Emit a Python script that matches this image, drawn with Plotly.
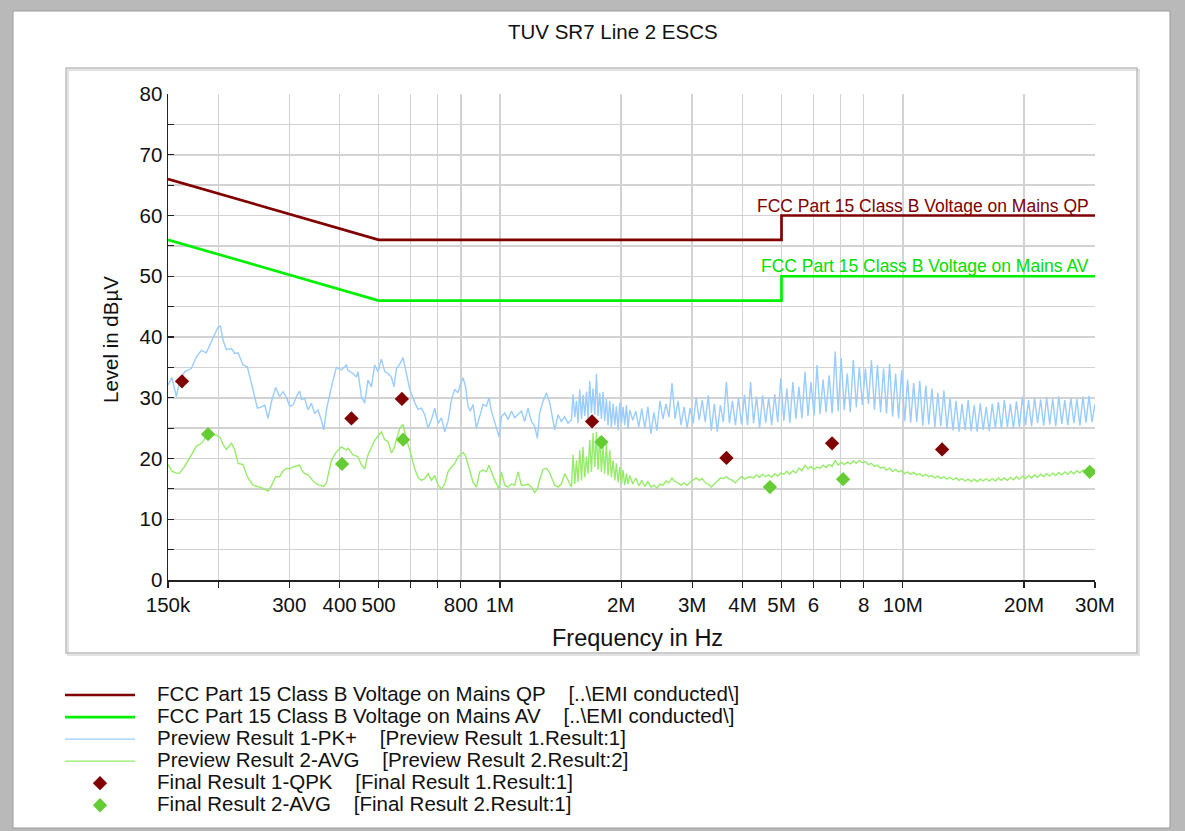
import numpy as np
import plotly.graph_objects as go

# ---------------- data ----------------
limit_freq_mhz = [0.15, 0.5, 5.0, 5.0, 30.0]
limit_qp_dbuv = [66, 56, 56, 60, 60]
limit_av_dbuv = [56, 46, 46, 50, 50]

preview_freq_mhz = [
    0.1500, 0.1534, 0.1573, 0.1603, 0.1650, 0.1714, 0.1764, 0.1815, 0.1867, 0.1922,
    0.1959, 0.1996, 0.2024, 0.2054, 0.2094, 0.2156, 0.2197, 0.2239, 0.2303, 0.2361,
    0.2438, 0.2500, 0.2558, 0.2607, 0.2656, 0.2708, 0.2775, 0.2839, 0.2893, 0.2951,
    0.3007, 0.3064, 0.3125, 0.3184, 0.3215, 0.3276, 0.3339, 0.3404, 0.3469, 0.3535,
    0.3604, 0.3653, 0.3710, 0.3817, 0.3927, 0.4041, 0.4158, 0.4196, 0.4318, 0.4402,
    0.4443, 0.4530, 0.4616, 0.4704, 0.4797, 0.4889, 0.4982, 0.5079, 0.5176, 0.5275,
    0.5378, 0.5459, 0.5534, 0.5640, 0.5747, 0.5861, 0.5973, 0.6146, 0.6263, 0.6386,
    0.6507, 0.6631, 0.6761, 0.6890, 0.7022, 0.7159, 0.7295, 0.7434, 0.7580, 0.7725,
    0.7872, 0.7948, 0.8100, 0.8211, 0.8333, 0.8447, 0.8574, 0.8743, 0.8909, 0.9079,
    0.9257, 0.9395, 0.9526, 0.9707, 0.9949, 1.009, 1.028, 1.047, 1.068, 1.088,
    1.109, 1.131, 1.152, 1.174, 1.197, 1.220, 1.239, 1.255, 1.279, 1.305,
    1.329, 1.350, 1.368, 1.394, 1.421, 1.448, 1.476, 1.505,
    1.519, 1.534, 1.549, 1.563, 1.578, 1.594, 1.608, 1.624, 1.640, 1.655,
    1.671, 1.687, 1.703, 1.720, 1.736, 1.752, 1.769, 1.786, 1.803, 1.820,
    1.838, 1.855, 1.873, 1.891, 1.909, 1.928, 1.946, 1.965, 1.984, 2.003,
    2.021, 2.041, 2.061, 2.080,
    2.100, 2.137, 2.174, 2.211, 2.250, 2.289, 2.329, 2.370, 2.411, 2.453,
    2.496, 2.539, 2.583, 2.628, 2.674, 2.721, 2.768, 2.816, 2.865, 2.915,
    2.966, 3.018, 3.070, 3.124, 3.178, 3.233, 3.290, 3.347, 3.405, 3.465,
    3.525, 3.586, 3.649, 3.712, 3.777, 3.843, 3.910, 3.978, 4.047, 4.117,
    4.189, 4.262, 4.336, 4.412, 4.489, 4.567, 4.646, 4.727, 4.810, 4.893,
    4.979, 5.066, 5.154, 5.244, 5.335, 5.428, 5.523, 5.619, 5.717, 5.816,
    5.918, 6.021, 6.126, 6.232, 6.341, 6.451, 6.564, 6.678, 6.794, 6.913,
    7.033, 7.156, 7.280, 7.407, 7.536, 7.668, 7.801, 7.937, 8.075, 8.216,
    8.359, 8.505, 8.653, 8.804, 8.957, 9.113, 9.272, 9.434, 9.598, 9.765,
    9.935, 10.11, 10.28, 10.46, 10.64, 10.83, 11.02, 11.21, 11.41, 11.60,
    11.81, 12.01, 12.22, 12.43, 12.65, 12.87, 13.10, 13.32, 13.56, 13.79,
    14.03, 14.28, 14.53, 14.78, 15.04, 15.30, 15.57, 15.84, 16.11, 16.39,
    16.68, 16.97, 17.27, 17.57, 17.87, 18.18, 18.50, 18.82, 19.15, 19.48,
    19.82, 20.17, 20.52, 20.88, 21.24, 21.61, 21.99, 22.37, 22.76, 23.16,
    23.56, 23.97, 24.39, 24.81, 25.24, 25.68, 26.13, 26.59, 27.05, 27.52,
    28.00, 28.49, 28.99, 29.49, 30.00,
]

preview_pk_dbuv = [
    32.1, 33.3, 30.2, 32.6, 34.3, 34.8, 36.7, 37.8, 37.4, 39.2,
    40.5, 41.6, 41.8, 39.5, 37.9, 38.1, 37.3, 37.4, 35.4, 35.1,
    31.3, 28.3, 28.5, 28.8, 26.6, 29.3, 31.7, 30.2, 31.0, 30.1,
    28.6, 28.8, 30.2, 31.1, 29.7, 29.9, 28.0, 29.1, 27.4, 28.0,
    26.3, 24.7, 28.0, 31.8, 35.0, 34.6, 35.4, 34.5, 34.0, 33.4,
    34.3, 30.2, 29.1, 32.9, 31.8, 35.4, 34.3, 36.4, 34.3, 34.0,
    33.4, 31.8, 34.8, 35.5, 36.6, 34.2, 31.4, 29.2, 28.1, 28.3,
    27.2, 25.0, 26.4, 28.3, 25.8, 26.7, 24.4, 26.1, 29.7, 31.4,
    30.8, 31.9, 33.3, 31.9, 28.6, 27.8, 28.9, 25.0, 26.9, 28.9,
    28.6, 30.0, 27.8, 25.8, 23.6, 26.9, 27.5, 26.4, 27.8, 26.7,
    27.2, 27.8, 26.1, 28.3, 26.1, 25.3, 23.3, 27.5, 29.4, 30.8,
    29.2, 26.4, 24.7, 27.2, 26.1, 26.9, 25.8, 26.4,
    30.6, 26.8, 29.5, 25.8, 31.4, 26.5, 30.5, 27.0, 31.0, 26.5,
    32.8, 27.5, 31.5, 27.2, 33.9, 27.0, 30.8, 26.5, 31.0, 26.2,
    29.8, 25.5, 29.5, 25.2, 29.0, 25.5, 28.6, 24.7, 29.2, 25.8,
    28.5, 25.5, 28.8, 24.9,
    28.0, 26.3, 27.8, 25.2, 28.2, 25.0, 28.5, 24.1, 27.6, 24.6,
    29.5, 26.5, 29.0, 26.8, 32.4, 26.5, 29.5, 25.5, 28.5, 25.0,
    28.3, 25.8, 30.0, 26.3, 29.6, 26.0, 30.4, 24.6, 29.0, 24.4,
    28.8, 26.0, 32.6, 25.8, 29.5, 25.5, 30.0, 25.6, 30.5, 25.5,
    32.6, 25.8, 30.2, 25.0, 30.4, 25.9, 30.0, 25.5, 30.6, 26.0,
    33.2, 26.2, 31.5, 25.8, 32.6, 26.5, 31.8, 26.6, 34.3, 27.0,
    32.6, 27.1, 35.4, 27.3, 33.0, 27.6, 33.7, 27.4, 37.6, 27.8,
    36.5, 28.0, 34.0, 27.6, 36.2, 28.4, 35.0, 28.8, 34.8, 29.0,
    36.2, 28.0, 35.4, 27.6, 34.8, 27.4, 35.6, 26.9, 34.0, 26.6,
    34.5, 26.2, 33.0, 25.9, 32.4, 26.0, 32.8, 25.4, 32.0, 25.6,
    31.5, 25.2, 30.8, 25.3, 31.2, 24.9, 29.9, 24.6, 29.5, 24.4,
    29.0, 24.7, 29.6, 24.5, 28.8, 24.4, 29.1, 24.7, 28.5, 24.5,
    29.0, 25.0, 29.3, 24.9, 29.6, 25.2, 29.0, 24.9, 29.4, 25.2,
    30.2, 25.5, 29.6, 25.3, 30.0, 25.8, 29.7, 25.4, 30.1, 25.6,
    29.8, 25.3, 30.2, 25.7, 29.6, 25.5, 30.0, 25.8, 29.8, 25.4,
    30.2, 25.9, 30.3, 26.0, 29.0,
]

preview_avg_dbuv = [
    19.0, 17.9, 17.6, 17.6, 18.7, 20.6, 22.0, 22.5, 23.6, 24.2,
    24.0, 23.7, 23.4, 22.3, 21.5, 22.5, 21.4, 19.2, 19.0, 17.0,
    15.6, 15.4, 15.2, 14.9, 14.6, 15.5, 17.0, 17.0, 17.9, 18.4,
    18.3, 18.6, 18.8, 18.9, 18.2, 17.5, 17.3, 16.6, 16.0, 15.7,
    15.5, 15.4, 16.0, 19.7, 21.1, 21.9, 21.4, 21.7, 20.6, 20.4,
    20.3, 19.0, 18.3, 20.6, 21.9, 23.0, 23.7, 24.4, 23.1, 22.8,
    20.9, 21.7, 23.1, 25.0, 25.6, 23.1, 21.4, 18.3, 16.9, 16.4,
    16.7, 17.5, 16.4, 17.2, 15.6, 15.0, 15.8, 17.8, 18.6, 19.2,
    20.3, 20.5, 21.0, 20.5, 19.0, 17.7, 16.1, 15.3, 17.8, 18.1,
    17.8, 18.9, 17.8, 16.4, 15.0, 17.8, 15.6, 15.3, 15.8, 15.6,
    17.8, 15.6, 15.6, 15.8, 15.3, 14.4, 15.0, 16.5, 18.2, 18.4,
    17.6, 16.4, 15.6, 15.3, 15.8, 17.5, 16.4, 15.3,
    20.6, 15.8, 19.7, 16.1, 21.4, 16.4, 21.9, 16.9, 20.3, 17.5,
    23.1, 17.8, 24.2, 18.6, 24.4, 18.1, 23.6, 17.8, 21.9, 17.5,
    22.5, 17.2, 21.4, 16.9, 19.7, 16.4, 19.2, 16.1, 18.6, 15.8,
    18.1, 15.6, 17.5, 15.8,
    17.2, 15.8, 16.8, 15.5, 16.4, 15.4, 16.2, 15.3, 15.6, 15.1,
    15.8, 15.6, 16.3, 16.0, 16.8, 16.2, 16.0, 15.6, 16.0, 15.6,
    16.1, 16.5, 16.8, 16.4, 16.7, 16.0, 15.8, 15.3, 15.8, 16.2,
    16.8, 16.7, 17.0, 16.6, 16.4, 16.0, 16.6, 17.0, 16.6, 16.9,
    17.0, 16.8, 17.3, 16.9, 17.4, 17.0, 17.3, 16.9, 17.5, 17.1,
    17.6, 17.4, 17.9, 17.4, 18.0, 17.6, 18.4, 18.0, 18.9, 18.3,
    18.7, 18.2, 18.6, 18.4, 18.9, 18.5, 19.0, 18.7, 19.7, 18.9,
    19.4, 19.0, 19.4, 19.1, 19.6, 19.2, 19.7, 19.3, 19.5, 19.0,
    19.2, 18.7, 18.9, 18.4, 18.6, 18.1, 18.4, 17.9, 18.2, 17.8,
    18.0, 17.5, 17.8, 17.4, 17.7, 17.3, 17.5, 17.1, 17.4, 17.0,
    17.2, 16.8, 17.1, 16.7, 17.0, 16.6, 16.9, 16.5, 16.8, 16.4,
    16.7, 16.3, 16.6, 16.2, 16.6, 16.2, 16.6, 16.3, 16.7, 16.3,
    16.7, 16.3, 16.8, 16.4, 16.8, 16.4, 16.9, 16.5, 17.0, 16.6,
    17.1, 16.7, 17.2, 16.8, 17.3, 16.9, 17.4, 17.0, 17.5, 17.1,
    17.6, 17.2, 17.7, 17.3, 17.8, 17.4, 17.9, 17.5, 18.0, 17.6,
    18.1, 17.7, 18.2, 17.8, 18.0,
]

final_qpk_freq_mhz = [0.1625, 0.428, 0.571, 1.693, 3.65, 6.675, 12.52]
final_qpk_dbuv = [32.7, 26.6, 29.8, 26.1, 20.1, 22.5, 21.5]
final_avg_freq_mhz = [0.1886, 0.4057, 0.575, 1.786, 4.68, 7.11, 29.1]
final_avg_dbuv = [24.0, 19.1, 23.1, 22.7, 15.3, 16.6, 17.8]

x_tick_hz = [150e3, 200e3, 300e3, 400e3, 500e3, 600e3, 700e3, 800e3, 1e6,
             2e6, 3e6, 4e6, 5e6, 6e6, 7e6, 8e6, 10e6, 20e6, 30e6]
x_tick_text = ["150k", "", "300", "400", "500", "", "", "800", "1M",
               "2M", "3M", "4M", "5M", "6", "", "8", "10M", "20M", "30M"]
y_tick_vals = list(range(0, 81, 5))
y_tick_text = [str(v) if v % 10 == 0 else "" for v in y_tick_vals]

# ---------------- layout geometry ----------------
W, H = 1185, 831
ML, MR, MT, MB = 168, 90, 94, 251
PW, PH = W - ML - MR, H - MT - MB
FONT = "Liberation Sans, Arial, sans-serif"


def px_x(p):
    return (p - ML) / PW


def px_y(p):
    return (H - MB - p) / PH


def hz(vals):
    return [v * 1e6 for v in vals]


NB = "\u00a0"


def leg(main, extra):
    return ('<span style="font-size:20.5px">' + NB * 3 + main + NB * 4 + extra + "</span>")


fig = go.Figure()

fig.add_trace(go.Scatter(
    x=hz(preview_freq_mhz), y=preview_pk_dbuv, mode="lines",
    line=dict(color="#99CCFF", width=1.4),
    name=leg("Preview Result 1-PK+", "[Preview Result 1.Result:1]"), legendrank=3))
fig.add_trace(go.Scatter(
    x=hz(preview_freq_mhz), y=preview_avg_dbuv, mode="lines",
    line=dict(color="#96EC6A", width=1.4),
    name=leg("Preview Result 2-AVG", "[Preview Result 2.Result:2]"), legendrank=4))
fig.add_trace(go.Scatter(
    x=hz(limit_freq_mhz), y=limit_qp_dbuv, mode="lines",
    line=dict(color="#800000", width=2.7),
    name=leg("FCC Part 15 Class B Voltage on Mains QP", "[..\\EMI conducted\\]"), legendrank=1))
fig.add_trace(go.Scatter(
    x=hz(limit_freq_mhz), y=limit_av_dbuv, mode="lines",
    line=dict(color="#00F000", width=2.7),
    name=leg("FCC Part 15 Class B Voltage on Mains AV", "[..\\EMI conducted\\]"), legendrank=2))
fig.add_trace(go.Scatter(
    x=hz(final_qpk_freq_mhz), y=final_qpk_dbuv, mode="markers",
    marker=dict(symbol="diamond", size=11, color="#800000", line=dict(width=0)),
    name=leg("Final Result 1-QPK", "[Final Result 1.Result:1]"), legendrank=5))
fig.add_trace(go.Scatter(
    x=hz(final_avg_freq_mhz), y=final_avg_dbuv, mode="markers",
    marker=dict(symbol="diamond", size=11, color="#66CC33", line=dict(width=0)),
    name=leg("Final Result 2-AVG", "[Final Result 2.Result:1]"), legendrank=6))

shapes = []
# window frame (grey border around the screenshot)
border = "#b9b9b9"
for (x0, y0, x1, y1) in [(0, 0, 13, H), (0, 0, W, 11), (1170, 0, W, H), (0, 828, W, H)]:
    shapes.append(dict(type="rect", xref="paper", yref="paper", layer="below",
                       x0=px_x(x0), x1=px_x(x1), y0=px_y(y0), y1=px_y(y1),
                       fillcolor=border, line=dict(width=0)))
shapes.append(dict(type="rect", xref="paper", yref="paper", layer="below",
                   x0=px_x(13), x1=px_x(1170), y0=px_y(11), y1=px_y(828),
                   fillcolor="white", line=dict(color="#9a9a9a", width=1)))
# chart panel frame with soft shadow
shapes.append(dict(type="rect", xref="paper", yref="paper", layer="below",
                   x0=px_x(68), x1=px_x(1139), y0=px_y(70), y1=px_y(655),
                   line=dict(color="#e2e2e2", width=2)))
shapes.append(dict(type="rect", xref="paper", yref="paper", layer="below",
                   x0=px_x(66), x1=px_x(1137), y0=px_y(68), y1=px_y(653),
                   line=dict(color="#bcbcbc", width=1.5)))

annotations = [
    dict(text="TUV SR7 Line 2 ESCS", xref="paper", yref="paper",
         x=px_x(613), y=px_y(31), xanchor="center", yanchor="middle",
         showarrow=False, font=dict(family=FONT, size=20.5, color="#111111")),
    dict(text="Frequency in Hz", xref="paper", yref="paper",
         x=px_x(637), y=px_y(638), xanchor="center", yanchor="middle",
         showarrow=False, font=dict(family=FONT, size=23.5, color="#111111")),
    dict(text="Level in dBµV", xref="paper", yref="paper", textangle=-90,
         x=px_x(110), y=px_y(340), xanchor="center", yanchor="middle",
         showarrow=False, font=dict(family=FONT, size=20.5, color="#111111")),
    dict(text="FCC Part 15 Class B Voltage on Mains QP", xref="x", yref="y",
         x=np.log10(30e6), y=60, xanchor="right", yanchor="bottom", xshift=-4, yshift=-2,
         showarrow=False, font=dict(family=FONT, size=17.5, color="#800000")),
    dict(text="FCC Part 15 Class B Voltage on Mains AV", xref="x", yref="y",
         x=np.log10(30e6), y=50, xanchor="right", yanchor="bottom", xshift=-4, yshift=-2,
         showarrow=False, font=dict(family=FONT, size=17.5, color="#00E000")),
]

fig.update_layout(
    width=W, height=H,
    margin=dict(l=ML, r=MR, t=MT, b=MB, pad=0, autoexpand=False),
    paper_bgcolor="white", plot_bgcolor="white",
    font=dict(family=FONT, color="#111111"),
    showlegend=True,
    legend=dict(x=px_x(60), y=px_y(679), xanchor="left", yanchor="top",
                orientation="v", itemwidth=70, bgcolor="rgba(0,0,0,0)",
                font=dict(family=FONT, size=14.65, color="#111111"),
                traceorder="normal", itemclick=False, itemdoubleclick=False),
    shapes=shapes, annotations=annotations,
    xaxis=dict(type="log", range=[np.log10(150e3), np.log10(30e6)],
               tickvals=x_tick_hz, ticktext=x_tick_text,
               showgrid=True, gridcolor="#d2d2d2", gridwidth=1.5,
               showline=True, linecolor="#222222", linewidth=1.5,
               ticks="outside", ticklen=6, tickcolor="#222222", tickwidth=1.2,
               ticklabelstandoff=0,
               tickfont=dict(family=FONT, size=20.5, color="#111111"),
               zeroline=False, fixedrange=True),
    yaxis=dict(range=[0, 80], tickvals=y_tick_vals, ticktext=y_tick_text,
               showgrid=True, gridcolor="#d2d2d2", gridwidth=1.5,
               showline=True, linecolor="#222222", linewidth=1.5,
               ticks="inside", ticklen=6, tickcolor="#222222", tickwidth=1.2,
               tickfont=dict(family=FONT, size=20.5, color="#111111"),
               zeroline=False, fixedrange=True),
)

fig.write_html(
    "out.html",
    config={"displayModeBar": False, "staticPlot": True},
    post_script="document.body.style.margin='0px';document.body.style.overflow='hidden';",
)
